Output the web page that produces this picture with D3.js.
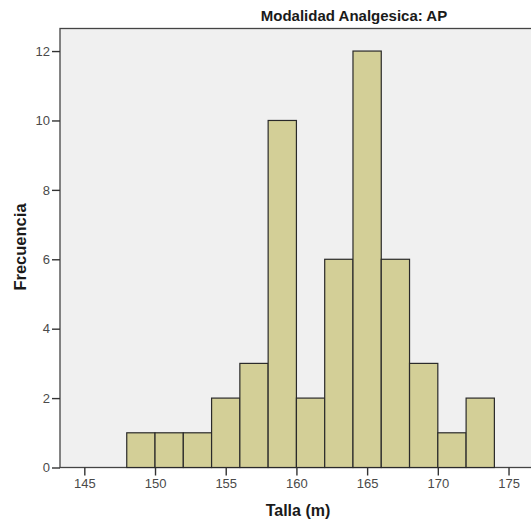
<!DOCTYPE html>
<html><head><meta charset="utf-8">
<script src="https://cdn.jsdelivr.net/npm/d3@7"></script>
<style>body{margin:0;background:#fff}svg{display:block}</style>
</head><body>
<script>
// Histogram bins of height (2-unit wide) and their counts
const binStarts = [148,150,152,154,156,158,160,162,164,166,168,170,172];
const binWidth = 2;
const counts = [1,1,1,2,3,10,2,6,12,6,3,1,2];
const xTicks = [145,150,155,160,165,170,175];
const yTicks = [0,2,4,6,8,10,12];
const title = "Modalidad Analgesica: AP";
const xLabel = "Talla (m)";
const yLabel = "Frecuencia";

const W = 531, H = 527;
const plotL = 60, plotR = 540, plotT = 28.5, plotB = 467.5;
const pxPerUnit = 14.14;
const font = "Arial, 'Liberation Sans', sans-serif";

const svg = d3.select("body").append("svg").attr("width", W).attr("height", H);

const x = d3.scaleLinear().domain([143.28, 143.28 + (plotR - plotL) / pxPerUnit]).range([plotL, plotR]);
const y = d3.scaleLinear().domain([0, 12.65]).range([plotB, plotT]);

svg.append("rect").attr("x", plotL).attr("y", plotT)
  .attr("width", plotR - plotL).attr("height", plotB - plotT)
  .attr("fill", "#f0f0f0").attr("stroke", "#444").attr("stroke-width", 1.3);

svg.append("g").selectAll("rect").data(binStarts).join("rect")
  .attr("x", (d) => x(d))
  .attr("y", (d, i) => y(counts[i]))
  .attr("width", (d) => x(d + binWidth) - x(d))
  .attr("height", (d, i) => y(0) - y(counts[i]))
  .attr("fill", "#d3cf97").attr("stroke", "#2a2a2a").attr("stroke-width", 1.2);

const xAxis = svg.append("g").attr("transform", `translate(0,${plotB})`)
  .call(d3.axisBottom(x).tickValues(xTicks).tickSize(8).tickPadding(3).tickFormat(d3.format("d")));
xAxis.select(".domain").remove();
xAxis.selectAll("line").attr("stroke", "#333").attr("stroke-width", 1.4);
xAxis.selectAll("text").attr("fill", "#4a4a4a").style("font", `13px ${font}`);

const yAxis = svg.append("g").attr("transform", `translate(${plotL},0)`)
  .call(d3.axisLeft(y).tickValues(yTicks).tickSize(8).tickPadding(2).tickFormat(d3.format("d")));
yAxis.select(".domain").remove();
yAxis.selectAll("line").attr("stroke", "#333").attr("stroke-width", 1.4);
yAxis.selectAll("text").attr("fill", "#4a4a4a").style("font", `13px ${font}`);

svg.append("text").attr("x", 354).attr("y", 21).attr("text-anchor", "middle")
  .style("font", `bold 15px ${font}`).attr("fill", "#1a1a1a").text(title);

svg.append("text").attr("x", 298).attr("y", 516).attr("text-anchor", "middle")
  .style("font", `bold 16px ${font}`).attr("fill", "#1a1a1a").text(xLabel);

svg.append("text").attr("transform", "translate(25.5,247) rotate(-90)").attr("text-anchor", "middle")
  .style("font", `bold 16.5px ${font}`).attr("fill", "#1a1a1a").text(yLabel);
</script>
</body></html>
